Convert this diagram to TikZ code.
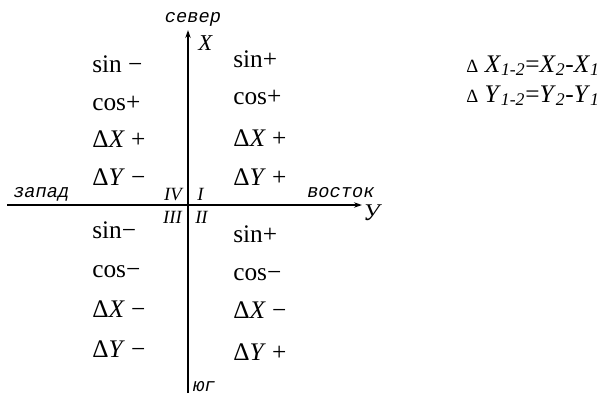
\documentclass[tikz,border=0pt]{standalone}
\usepackage{fontspec}
\setmainfont{Liberation Serif}
\newfontfamily\dirfont{Liberation Mono}
\usetikzlibrary{arrows.meta}

\tikzset{
  sgn/.style={font=\fontsize{19}{21}\selectfont, inner sep=0pt, anchor=base west},
  dir/.style={font=\dirfont\itshape\fontsize{14}{16}\selectfont, inner sep=0pt},
  quad/.style={font=\itshape\fontsize{14}{16}\selectfont, inner sep=0pt},
  frm/.style={font=\fontsize{19}{21}\selectfont, inner sep=0pt, anchor=base east}
}
\newcommand{\smalldelta}{{\fontsize{14}{16}\selectfont Δ}}

\begin{document}
\begin{tikzpicture}[x=0.75pt,y=-0.75pt]
\useasboundingbox (0,0) rectangle (603,393);
% axes
\coordinate (S) at (188,393); \coordinate (N) at (188,30);
\coordinate (W) at (7,205); \coordinate (E) at (362,205);
\draw[line width=1.1pt,-{Stealth[length=6pt,width=4pt]}] (S) -- (N);
\draw[line width=1.1pt,-{Stealth[length=6pt,width=4pt]}] (W) -- (E);
\node[dir,anchor=base] (sever) at (193,22) {север};
\node[dir,anchor=base west] (zapad) at (13,197) {запад};
\node[dir,anchor=base west] (vostok) at (307,197) {восток};
\node[dir,anchor=base west] (yug) at (193,391) {юг};
\node[quad,font=\itshape\fontsize{17}{19}\selectfont,anchor=base west] (axX) at (198,50) {X};
\node[quad,font=\itshape\fontsize{18}{20}\selectfont,anchor=base west] (axY) at (363,220) {У};
% quarters
\node[quad,anchor=base east] (q4) at (182,200) {IV};
\node[quad,anchor=base west] (q1) at (197,200) {I};
\node[quad,anchor=base east] (q3) at (182,223) {III};
\node[quad,anchor=base west] (q2) at (195,223) {II};
% signs, quarter IV
\node[sgn] (s4) at (92,72) {sin −};
\node[sgn] (c4) at (92,110) {cos+};
\node[sgn] (x4) at (92,147) {Δ\textit{X} +};
\node[sgn] (y4) at (92,185) {Δ\textit{Y} −};
% quarter I
\node[sgn] (s1) at (233,67) {sin+};
\node[sgn] (c1) at (233,104) {cos+};
\node[sgn] (x1) at (233,146) {Δ\textit{X} +};
\node[sgn] (y1) at (233,185) {Δ\textit{Y} +};
% quarter III
\node[sgn] (s3) at (92,238) {sin−};
\node[sgn] (c3) at (92,277) {cos−};
\node[sgn] (x3) at (92,317) {Δ\textit{X} −};
\node[sgn] (y3) at (92,357) {Δ\textit{Y} −};
% quarter II
\node[sgn] (s2) at (233,242) {sin+};
\node[sgn] (c2) at (233,280) {cos−};
\node[sgn] (x2) at (233,318) {Δ\textit{X} −};
\node[sgn] (y2) at (233,360) {Δ\textit{Y} +};
% increments
\node[frm] (dX) at (600,72) {\smalldelta{} \textit{X}\textsubscript{\textit{1-2}}=\textit{X}\textsubscript{\textit{2}}-\textit{X}\textsubscript{\textit{1}}};
\node[frm] (dY) at (600,102) {\smalldelta{} \textit{Y}\textsubscript{\textit{1-2}}=\textit{Y}\textsubscript{\textit{2}}-\textit{Y}\textsubscript{\textit{1}}};
\end{tikzpicture}
\end{document}
